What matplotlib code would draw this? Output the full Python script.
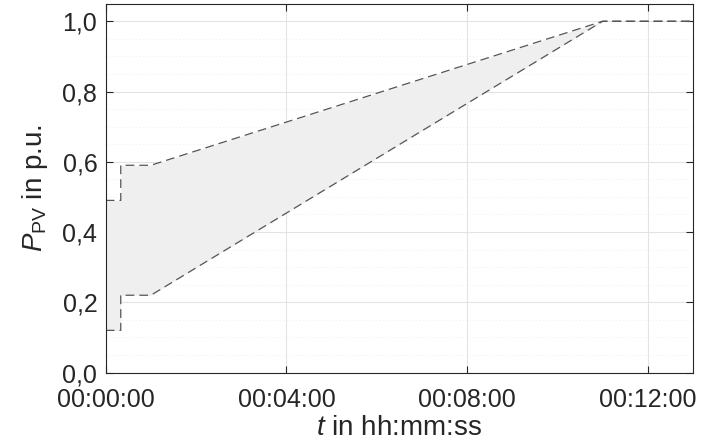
import numpy as np
import matplotlib
matplotlib.use('Agg')
import matplotlib.pyplot as plt
from matplotlib.ticker import FuncFormatter, MultipleLocator

plt.rcParams['font.family'] = ['Liberation Sans', 'DejaVu Sans']
plt.rcParams['mathtext.fontset'] = 'custom'
plt.rcParams['mathtext.rm'] = 'Liberation Sans'
plt.rcParams['mathtext.it'] = 'Liberation Sans:italic'

# time in seconds, power in p.u.
t = [0, 20, 20, 60, 660, 780]
p_upper = [0.49, 0.49, 0.59, 0.59, 1.0, 1.0]
p_lower = [0.12, 0.12, 0.22, 0.22, 1.0, 1.0]
xticks = [0, 240, 480, 720]
xlabels = ['00:00:00', '00:04:00', '00:08:00', '00:12:00']

txt = '#262626'
fig = plt.figure(figsize=(7.04, 4.41), dpi=100)
ax = fig.add_axes([105.7 / 704, 1 - 372.5 / 441, (693 - 105.7) / 704, (372.5 - 3.7) / 441])

ax.fill_between(t, p_lower, p_upper, color='#efefef', lw=0)
ax.plot(t, p_upper, color='#555555', lw=0.9, dashes=(7, 4))
ax.plot(t, p_lower, color='#555555', lw=0.9, dashes=(7, 4))

ax.set_xlim(0, 780)
ax.set_ylim(0, 1.05)
ax.set_xticks(xticks)
ax.set_xticklabels(xlabels)
ax.set_yticks(np.arange(0, 1.01, 0.2))
ax.yaxis.set_major_formatter(FuncFormatter(lambda v, pos: f'{v:.1f}'.replace('.', ',')))
ax.yaxis.set_minor_locator(MultipleLocator(0.05))

ax.grid(True, which='major', color='#e3e3e3', lw=0.8)
ax.grid(True, which='minor', axis='y', color='#e8e8e8', lw=0.6, ls=(0, (1, 3)))
ax.set_axisbelow(True)

ax.tick_params(which='major', direction='in', top=True, right=True, length=5,
               labelsize=18, colors=txt, width=0.8)
ax.tick_params(axis='x', pad=11)
ax.tick_params(axis='y', pad=6)
ax.tick_params(which='minor', left=False, right=False)
for s in ax.spines.values():
    s.set_color(txt)
    s.set_linewidth(0.8)

ax.set_xlabel(r'$t$ in hh:mm:ss', fontsize=20, color=txt, labelpad=2)
ax.set_ylabel(r'$P_{\mathrm{PV}}$ in p.u.', fontsize=20, color=txt, labelpad=9)

fig.savefig('out.png', dpi=100)
